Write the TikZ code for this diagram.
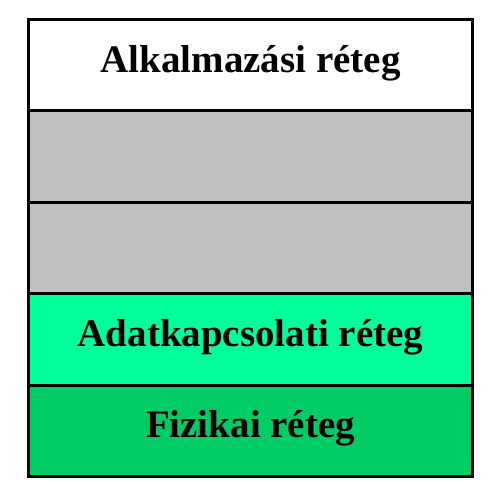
\documentclass[tikz,border=0pt]{standalone}
\usepackage{fontspec}
\setmainfont{Liberation Serif}
\definecolor{laygray}{RGB}{192,192,192}
\definecolor{laylight}{RGB}{0,255,153}
\definecolor{laygreen}{RGB}{0,204,102}
\begin{document}
\begin{tikzpicture}[x=1pt,y=-1pt,
  layer/.style={draw=black,line width=3pt},
  laytext/.style={anchor=base,inner sep=0pt,font=\fontsize{39}{39}\selectfont\bfseries}]
\useasboundingbox (0,0) rectangle (500,499);
\def\rh{91.4}
\fill[white] (28.5,19.5) rectangle (472.5,110.9);
\fill[laygray] (28.5,110.9) rectangle (472.5,293.7);
\fill[laylight] (28.5,293.7) rectangle (472.5,385.1);
\fill[laygreen] (28.5,385.1) rectangle (472.5,476.5);
\draw[layer] (28.5,110.9) -- (472.5,110.9);
\draw[layer] (28.5,202.3) -- (472.5,202.3);
\draw[layer] (28.5,293.7) -- (472.5,293.7);
\draw[layer] (28.5,385.1) -- (472.5,385.1);
\draw[layer] (28.5,19.5) rectangle (472.5,476.5);
\node[laytext] (t1) at (250.5,72.4) {Alkalmazási réteg};
\node[laytext] (t4) at (250.5,346.6) {Adatkapcsolati réteg};
\node[laytext] (t5) at (250.5,437.6) {Fizikai réteg};
\end{tikzpicture}
\end{document}
